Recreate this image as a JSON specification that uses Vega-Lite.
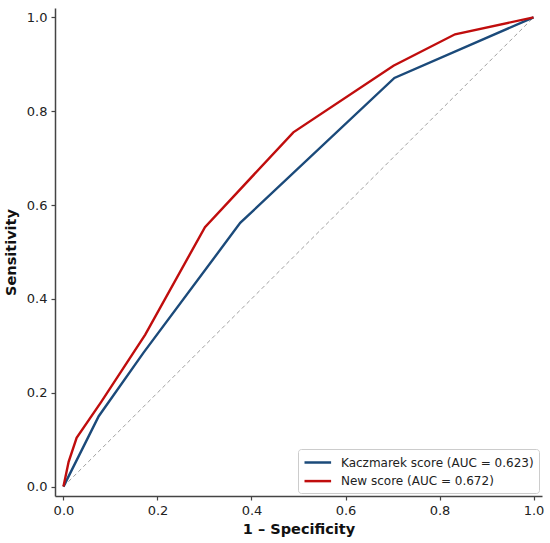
{
  "$schema": "https://vega.github.io/schema/vega-lite/v6.json",
  "width": 487,
  "height": 488,
  "autosize": {"type": "none"},
  "padding": {"left": 55, "top": 8, "right": 8, "bottom": 47},
  "background": "white",
  "config": {
    "view": {"stroke": null},
    "font": "DejaVu Sans",
    "axis": {
      "grid": false,
      "domainColor": "#444444",
      "domainWidth": 1.5,
      "tickColor": "#444444",
      "tickWidth": 1.2,
      "tickSize": 4,
      "labelFont": "DejaVu Sans",
      "labelFontSize": 13,
      "labelColor": "#222222",
      "labelPadding": 4,
      "titleFont": "DejaVu Sans",
      "titleFontSize": 14.5,
      "titleFontWeight": "bold",
      "titleColor": "#111111"
    }
  },
  "layer": [
    {
      "data": {"values": [{"fpr": 0, "tpr": 0}, {"fpr": 1, "tpr": 1}]},
      "mark": {"type": "line", "color": "#888888", "strokeWidth": 0.8, "strokeDash": [4, 3]},
      "encoding": {
        "x": {"field": "fpr", "type": "quantitative"},
        "y": {"field": "tpr", "type": "quantitative"}
      }
    },
    {
      "data": {
        "values": [
          {"model": "Kaczmarek score (AUC = 0.623)", "step": 0, "fpr": 0.0, "tpr": 0.0},
          {"model": "Kaczmarek score (AUC = 0.623)", "step": 1, "fpr": 0.075, "tpr": 0.15},
          {"model": "Kaczmarek score (AUC = 0.623)", "step": 2, "fpr": 0.17, "tpr": 0.285},
          {"model": "Kaczmarek score (AUC = 0.623)", "step": 3, "fpr": 0.376, "tpr": 0.562},
          {"model": "Kaczmarek score (AUC = 0.623)", "step": 4, "fpr": 0.704, "tpr": 0.871},
          {"model": "Kaczmarek score (AUC = 0.623)", "step": 5, "fpr": 1.0, "tpr": 1.0},
          {"model": "New score (AUC = 0.672)", "step": 0, "fpr": 0.0, "tpr": 0.0},
          {"model": "New score (AUC = 0.672)", "step": 1, "fpr": 0.011, "tpr": 0.053},
          {"model": "New score (AUC = 0.672)", "step": 2, "fpr": 0.028, "tpr": 0.104},
          {"model": "New score (AUC = 0.672)", "step": 3, "fpr": 0.08, "tpr": 0.18},
          {"model": "New score (AUC = 0.672)", "step": 4, "fpr": 0.174, "tpr": 0.324},
          {"model": "New score (AUC = 0.672)", "step": 5, "fpr": 0.301, "tpr": 0.553},
          {"model": "New score (AUC = 0.672)", "step": 6, "fpr": 0.489, "tpr": 0.755},
          {"model": "New score (AUC = 0.672)", "step": 7, "fpr": 0.702, "tpr": 0.897},
          {"model": "New score (AUC = 0.672)", "step": 8, "fpr": 0.833, "tpr": 0.964},
          {"model": "New score (AUC = 0.672)", "step": 9, "fpr": 1.0, "tpr": 1.0}
        ]
      },
      "mark": {"type": "line", "strokeWidth": 2.4},
      "encoding": {
        "x": {
          "field": "fpr",
          "type": "quantitative",
          "title": "1 – Specificity",
          "scale": {"domain": [-0.018, 1.018], "nice": false, "zero": false},
          "axis": {"values": [0, 0.2, 0.4, 0.6, 0.8, 1.0], "format": ".1f", "titlePadding": 5}
        },
        "y": {
          "field": "tpr",
          "type": "quantitative",
          "title": "Sensitivity",
          "scale": {"domain": [-0.02, 1.02], "nice": false, "zero": false},
          "axis": {"values": [0, 0.2, 0.4, 0.6, 0.8, 1.0], "format": ".1f", "titlePadding": 8}
        },
        "order": {"field": "step", "type": "quantitative"},
        "color": {
          "field": "model",
          "type": "nominal",
          "scale": {
            "domain": ["Kaczmarek score (AUC = 0.623)", "New score (AUC = 0.672)"],
            "range": ["#1b4a7a", "#c00d0d"]
          },
          "legend": {
            "title": null,
            "orient": "none",
            "legendX": 243,
            "legendY": 441,
            "symbolType": "M-1,0H2.8",
            "symbolSize": 196,
            "symbolStrokeWidth": 2.5,
            "labelOffset": 21,
            "labelLimit": 300,
            "labelFont": "DejaVu Sans",
            "labelFontSize": 12,
            "labelColor": "#222222",
            "rowPadding": 3.6,
            "padding": 5,
            "strokeColor": "#cccccc",
            "cornerRadius": 3,
            "fillColor": "white"
          }
        }
      }
    }
  ]
}
